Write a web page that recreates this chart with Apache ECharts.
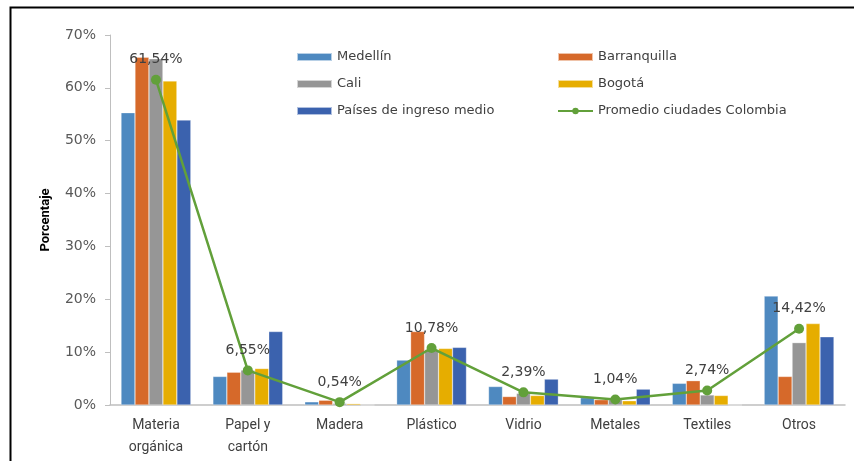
<!DOCTYPE html>
<html>
<head>
<meta charset="utf-8">
<script src="https://cdn.jsdelivr.net/npm/echarts@6/dist/echarts.min.js"></script>
<style>
html,body{margin:0;padding:0;background:#fff;}
#chart{width:854px;height:461px;}
</style>
</head>
<body>
<div id="chart"></div>
<script>
const categories = ['Materia\norgánica', 'Papel y\ncartón', 'Madera', 'Plástico', 'Vidrio', 'Metales', 'Textiles', 'Otros'];
const medellin = [55.3, 5.4, 0.6, 8.5, 3.5, 1.4, 4.1, 20.6];
const barranquilla = [65.8, 6.2, 0.9, 13.9, 1.6, 1.0, 4.6, 5.4];
const cali = [65.5, 6.6, 0.3, 10.5, 2.2, 1.0, 1.9, 11.8];
const bogota = [61.3, 6.9, 0.25, 10.7, 1.8, 0.8, 1.8, 15.4];
const paises = [53.9, 13.9, 0, 10.9, 4.9, 3.0, 0, 12.9];
const promedio = [61.54, 6.55, 0.54, 10.78, 2.39, 1.04, 2.74, 14.42];
const yTicks = [0, 10, 20, 30, 40, 50, 60, 70];

const chart = echarts.init(document.getElementById('chart'), null, {renderer: 'canvas'});
const barSeries = (name, data, color) => ({
  name, type: 'bar', data, barGap: '0%', barCategoryGap: '24%',
  itemStyle: {color, borderColor: 'rgba(255,255,255,0.6)', borderWidth: 0.5}
});
const legendText = {color: '#404040', fontSize: 13, fontFamily: 'DejaVu Sans', lineHeight: 14};
chart.setOption({
  animation: false,
  backgroundColor: '#fff',
  graphic: [{
    type: 'polyline', shape: {points: [[10.5, 461], [10.5, 7.5], [854, 7.5]]},
    style: {stroke: '#000', lineWidth: 2, fill: null}
  }],
  legend: [{
    left: 296, top: 50, orient: 'vertical', itemWidth: 35, itemHeight: 8, itemGap: 13, padding: 0,
    textStyle: legendText, icon: 'rect',
    data: ['Medellín', 'Cali', 'Países de ingreso medio']
  }, {
    left: 557, top: 50, orient: 'vertical', itemWidth: 35, itemHeight: 8, itemGap: 13, padding: 0,
    textStyle: legendText,
    data: [{name: 'Barranquilla', icon: 'rect'}, {name: 'Bogotá', icon: 'rect'}, {name: 'Promedio ciudades Colombia'}]
  }],
  grid: {left: 110, right: 9, top: 35, bottom: 56, containLabel: false},
  xAxis: {
    type: 'category', data: categories,
    axisLine: {lineStyle: {color: '#BFBFBF', width: 1.5}},
    axisTick: {show: false},
    axisLabel: {color: '#404040', fontSize: 14, fontFamily: 'Roboto', margin: 9, lineHeight: 22}
  },
  yAxis: {
    type: 'value', min: yTicks[0], max: yTicks[yTicks.length - 1], interval: 10,
    name: 'Porcentaje', nameLocation: 'middle', nameGap: 58, nameRotate: 90,
    nameTextStyle: {color: '#000', fontWeight: 'bold', fontSize: 13, fontFamily: 'Roboto'},
    axisLine: {show: true, lineStyle: {color: '#BFBFBF'}},
    axisTick: {show: true, length: 5, lineStyle: {color: '#BFBFBF'}},
    splitLine: {show: false},
    axisLabel: {color: '#595959', fontSize: 14, fontFamily: 'DejaVu Sans', formatter: '{value}%', margin: 14}
  },
  series: [
    barSeries('Medellín', medellin, '#4E89C0'),
    barSeries('Barranquilla', barranquilla, '#D6692A'),
    barSeries('Cali', cali, '#969696'),
    barSeries('Bogotá', bogota, '#E6AD00'),
    barSeries('Países de ingreso medio', paises, '#3B62AE'),
    {
      name: 'Promedio ciudades Colombia', type: 'line', data: promedio,
      symbol: 'circle', symbolSize: 10,
      lineStyle: {color: '#62A03A', width: 2.5},
      itemStyle: {color: '#62A03A'},
      label: {
        show: true, position: 'top', distance: 8, color: '#404040', fontSize: 14, fontFamily: 'DejaVu Sans',
        formatter: p => p.value.toFixed(2).replace('.', ',') + '%'
      },
      z: 5
    }
  ]
});
</script>
</body>
</html>
